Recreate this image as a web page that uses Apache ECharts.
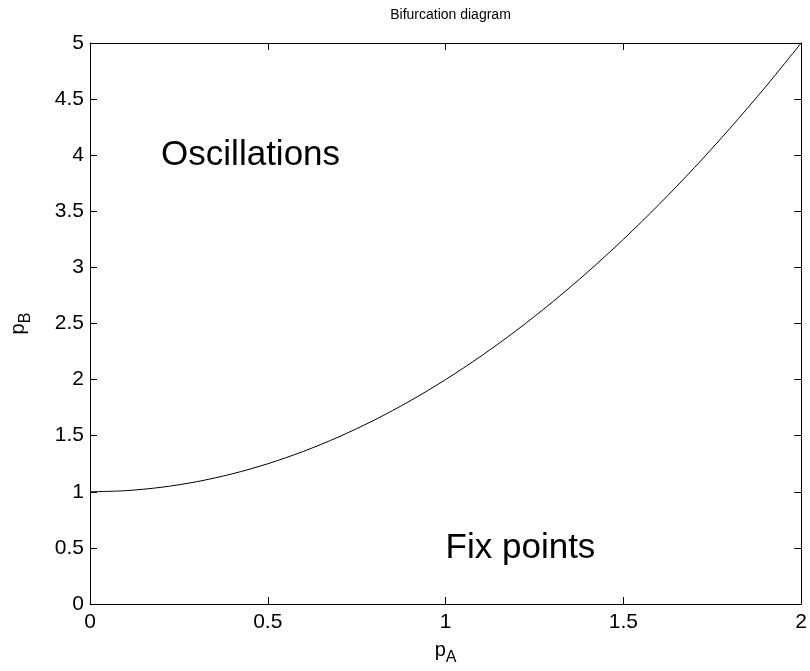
<!DOCTYPE html>
<html>
<head>
<meta charset="utf-8">
<script src="https://cdn.jsdelivr.net/npm/echarts@6/dist/echarts.min.js"></script>
<style>html,body{margin:0;padding:0;background:#fff;}#c{width:810px;height:671px;}</style>
</head>
<body>
<div id="c"></div>
<script>
// Curve (pA, pB)
const pA = [0, 0.1, 0.2, 0.3, 0.4, 0.5, 0.6, 0.7, 0.8, 0.9, 1.0, 1.1, 1.2, 1.3, 1.4, 1.5, 1.6, 1.7, 1.8, 1.9, 2.0];
const pB = [1.00, 1.01, 1.04, 1.09, 1.16, 1.25, 1.36, 1.49, 1.64, 1.81, 2.00, 2.21, 2.44, 2.69, 2.96, 3.25, 3.56, 3.89, 4.24, 4.61, 5.00];
const xTicks = [0, 0.5, 1, 1.5, 2];
const yTicks = [0, 0.5, 1, 1.5, 2, 2.5, 3, 3.5, 4, 4.5, 5];
const annotationText = ['Oscillations', 'Fix points'];
const annotationX = [0.2, 1.0];
const annotationY = [4.0, 0.5];
const titleText = 'Bifurcation diagram';

const font = 'Liberation Sans, Arial, Helvetica, sans-serif';
function axisCommon() {
  return {
    axisLine: { show: true, onZero: false, lineStyle: { color: '#000', width: 1 } },
    axisTick: { show: true, inside: true, length: 7, lineStyle: { color: '#000', width: 1 } },
    splitLine: { show: false }
  };
}
const nameRich = {
  p: { fontFamily: font, fontSize: 20, color: '#000' },
  s: { fontFamily: font, fontSize: 16, color: '#000', padding: [16, 0, 0, 0] }
};
const chart = echarts.init(document.getElementById('c'), null, { renderer: 'canvas' });
chart.setOption({
  animation: false,
  backgroundColor: '#fff',
  title: {
    text: titleText, left: 445.5, textAlign: 'center', top: 3,
    textStyle: { fontFamily: font, fontSize: 14, fontWeight: 'normal', color: '#000' }
  },
  grid: { left: 89, right: 8, top: 43, bottom: 64, containLabel: false },
  xAxis: [
    Object.assign({
      type: 'value', min: xTicks[0], max: xTicks[xTicks.length - 1], interval: 0.5, position: 'bottom',
      axisLabel: { color: '#000', fontFamily: font, fontSize: 21, margin: 8 },
      name: '{p|p}{s|A}', nameLocation: 'middle', nameGap: 30,
      nameTextStyle: { color: '#000', fontFamily: font, fontSize: 20, rich: nameRich }
    }, axisCommon()),
    Object.assign({
      type: 'value', min: xTicks[0], max: xTicks[xTicks.length - 1], interval: 0.5, position: 'top',
      axisLabel: { show: false }
    }, axisCommon())
  ],
  yAxis: [
    Object.assign({
      type: 'value', min: yTicks[0], max: yTicks[yTicks.length - 1], interval: 0.5, position: 'left',
      axisLabel: { color: '#000', fontFamily: font, fontSize: 21, margin: 6 },
      name: '{p|p}{s|B}', nameLocation: 'middle', nameGap: 56, nameRotate: 90,
      nameTextStyle: { color: '#000', fontFamily: font, fontSize: 20, rich: nameRich }
    }, axisCommon()),
    Object.assign({
      type: 'value', min: yTicks[0], max: yTicks[yTicks.length - 1], interval: 0.5, position: 'right',
      axisLabel: { show: false }
    }, axisCommon())
  ],
  series: [
    {
      type: 'line', xAxisIndex: 0, yAxisIndex: 0,
      data: pA.map((x, i) => [x, pB[i]]),
      smooth: 0.3, showSymbol: false, symbol: 'none',
      lineStyle: { color: '#000', width: 1 }
    },
    {
      type: 'custom', xAxisIndex: 0, yAxisIndex: 0, silent: true,
      data: annotationText.map((t, i) => [annotationX[i], annotationY[i], i]),
      renderItem: function (params, api) {
        const pt = api.coord([api.value(0), api.value(1)]);
        const idx = api.value(2);
        return {
          type: 'text', x: pt[0], y: pt[1],
          style: {
            text: annotationText[idx], fill: '#000',
            font: '35px ' + font, align: 'left', verticalAlign: 'middle'
          }
        };
      }
    }
  ]
});
</script>
</body>
</html>
